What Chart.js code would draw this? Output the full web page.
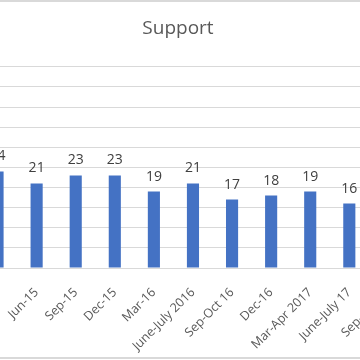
<!DOCTYPE html>
<html>
<head>
<meta charset="utf-8">
<script src="https://cdn.jsdelivr.net/npm/chart.js@4/dist/chart.umd.min.js"></script>
<style>
  html, body { margin: 0; padding: 0; background: #fff; }
  #frame { position: relative; width: 360px; height: 360px; overflow: hidden; background: #fff; }
  #wrap { position: absolute; left: -52px; top: 0; width: 460px; height: 360px; }
  .edge { position: absolute; left: 0; width: 360px; height: 2px; background: #d9d9d9; }
</style>
</head>
<body>
<div id="frame">
  <div id="wrap"><canvas id="c" width="460" height="360"></canvas></div>
  <div class="edge" style="top:0"></div>
  <div class="edge" style="top:357px"></div>
</div>
<script>
const categories = ["Mar-15", "Jun-15", "Sep-15", "Dec-15", "Mar-16", "June-July 2016", "Sep-Oct 16", "Dec-16", "Mar-Apr 2017", "June-July 17", "Sep-Oct 17"];
const supportValues = [24, 21, 23, 23, 19, 21, 17, 18, 19, 16, 17];
const yTicks = [0, 5, 10, 15, 20, 25, 30, 35, 40, 45, 50];

const valueLabels = {
  id: 'valueLabels',
  afterDatasetsDraw(chart) {
    const ctx = chart.ctx;
    const meta = chart.getDatasetMeta(0);
    ctx.save();
    ctx.font = '14px "Open Sans"';
    ctx.fillStyle = '#404040';
    ctx.textAlign = 'center';
    ctx.textBaseline = 'alphabetic';
    meta.data.forEach((bar, i) => {
      ctx.fillText(String(chart.data.datasets[0].data[i]), bar.x, bar.y - 11);
    });
    ctx.restore();
  }
};

new Chart(document.getElementById('c'), {
  type: 'bar',
  data: {
    labels: categories,
    datasets: [{
      label: 'Support',
      data: supportValues,
      backgroundColor: '#4472C4',
      borderWidth: 0,
      barPercentage: 0.31,
      categoryPercentage: 1.0
    }]
  },
  options: {
    responsive: false,
    devicePixelRatio: 1,
    animation: false,
    layout: { padding: { left: 0, right: 0, top: 0, bottom: 0 } },
    plugins: {
      legend: { display: false },
      tooltip: { enabled: false },
      title: {
        display: true,
        text: 'Support',
        color: '#595959',
        font: { family: '"Open Sans"', size: 19, weight: 'normal' },
        padding: { top: 17, bottom: 27 }
      }
    },
    scales: {
      x: {
        grid: { display: false },
        border: { display: true, color: '#d9d9d9', width: 1 },
        ticks: {
          color: '#595959',
          font: { family: '"Open Sans"', size: 12.5 },
          minRotation: 45,
          maxRotation: 45,
          autoSkip: false,
          padding: 9
        },
        afterFit(scale) { scale.height = 92; }
      },
      y: {
        min: 0,
        max: 50,
        afterBuildTicks(scale) { scale.ticks = yTicks.map(v => ({ value: v })); },
        grid: { color: '#d9d9d9', lineWidth: 1, drawTicks: false },
        border: { display: false },
        ticks: { display: false },
        afterFit(scale) { scale.width = 30; }
      }
    }
  },
  plugins: [valueLabels]
});
</script>
</body>
</html>
